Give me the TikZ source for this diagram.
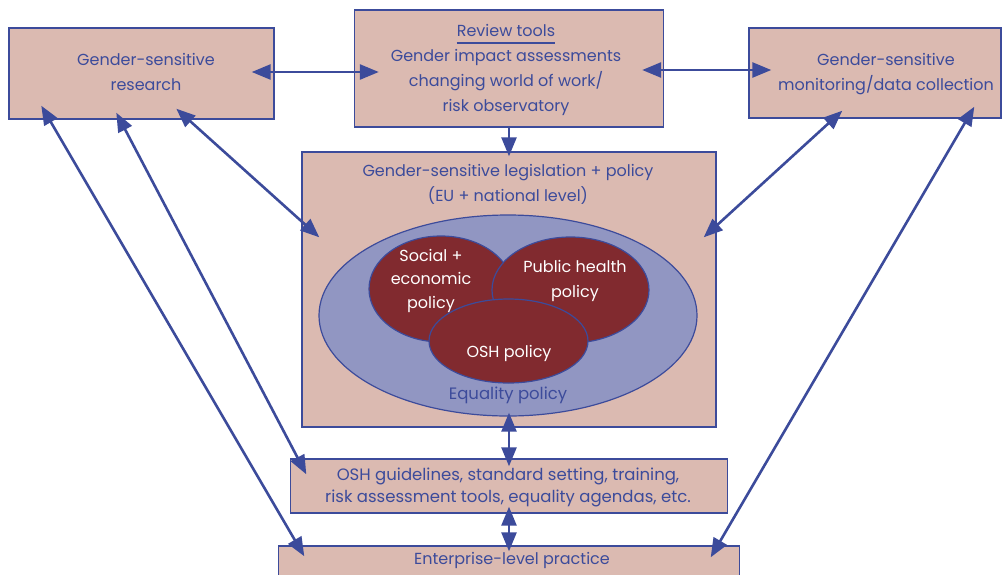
\documentclass[tikz,border=0pt]{standalone}
\usepackage{fontspec}
\setmainfont{Poppins}
\usetikzlibrary{calc,arrows.meta,shapes.geometric}
\definecolor{boxfill}{HTML}{DBBAB1}
\definecolor{navy}{HTML}{3C4B9B}
\definecolor{eqfill}{HTML}{9196C2}
\definecolor{policyred}{HTML}{812A2F}

\begin{document}
\begin{tikzpicture}[x=1pt,y=-1pt,
  panel/.style={rectangle, draw=navy, line width=1.4pt, fill=boxfill, inner sep=0pt},
  lbl/.style={text=navy, align=center, inner sep=0pt, font=\fontsize{16}{25}\selectfont},
  wlbl/.style={text=white, align=center, inner sep=0pt, font=\fontsize{16}{24}\selectfont},
  circ/.style={ellipse, draw=navy, line width=1.2pt, fill=policyred, inner sep=0pt},
  dbl/.style={draw=navy, line width=2.6pt, {Triangle[length=19pt,width=15pt]}-{Triangle[length=19pt,width=15pt]}},
  sgl/.style={draw=navy, line width=2.6pt, -{Triangle[length=19pt,width=15pt]}}
]
\clip (0,0) rectangle (1006,574);
\fill[white] (0,0) rectangle (1006,574);

% boxes
\node[panel, minimum width=265, minimum height=91] (research) at (141.5,73.5) {};
\node[panel, minimum width=309, minimum height=117] (review) at (509,68.5) {};
\node[panel, minimum width=252, minimum height=90] (monitor) at (875,73) {};
\node[panel, minimum width=414, minimum height=275] (central) at (509,289.5) {};
\node[panel, minimum width=437, minimum height=54] (osh) at (509,486) {};
\node[panel, minimum width=461, minimum height=54] (ent) at (509,573) {};

% box labels
\node[lbl] (researchlbl) at (146,71.5) {Gender-sensitive\\research};
\node[lbl] (revtitle) at (506,30) {Review tools};
\draw[navy, line width=2pt] ($(revtitle.base west)+(0,6.5)$) -- ($(revtitle.base east)+(0,6.5)$);
\node[lbl] (reviewlbl) at (506,82) {Gender impact assessments\\changing world of work/\\risk observatory};
\node[lbl] (monitorlbl) at (886,74) {Gender-sensitive\\monitoring/data collection};
\node[lbl] (centrallbl) at (508,184.5) {Gender-sensitive legislation + policy\\(EU + national level)};
\node[lbl, font=\fontsize{16.5}{22}\selectfont] (oshlbl) at (508,487) {OSH guidelines, standard setting, training,\\risk assessment tools, equality agendas, etc.};
\node[lbl] (entlbl) at (512,560) {Enterprise-level practice};

% policy ellipses
\node[ellipse, draw=navy, line width=1.2pt, fill=eqfill, minimum width=378, minimum height=201, inner sep=0pt] (equality) at (508,315.5) {};
\node[circ, minimum width=144, minimum height=106] (social) at (441,289) {};
\node[circ, minimum width=157, minimum height=106] (health) at (570.5,290) {};
\node[circ, minimum width=159, minimum height=84] (oshpol) at (508.5,341) {};

\node[wlbl, font=\fontsize{16}{23.5}\selectfont] (sociallbl) at (431,280.5) {Social +\\economic\\policy};
\node[wlbl, font=\fontsize{16}{25}\selectfont] (healthlbl) at (575,280.5) {Public health\\policy};
\node[wlbl] (oshpollbl) at (509,353) {OSH policy};
\node[lbl, font=\fontsize{16.5}{25}\selectfont] (equalitylbl) at (508,395) {Equality policy};

% connectors
\draw[dbl] ($(research.east)+(-23,-1.5)$) -- ($(review.west)+(25,3.5)$);
\draw[dbl] ($(review.east)+(-22,1.5)$) -- ($(monitor.west)+(23,-3)$);
\draw[sgl] (review.south) -- ($(central.north)+(0,5)$);
\draw[dbl] ($(central.south)+(0,-15)$) -- ($(osh.north)+(0,8)$);
\draw[dbl] ($(osh.south)+(0,-7)$) -- ($(ent.north)+(0,6)$);
\draw[dbl] ($(research.south west)+(33,-14)$) -- ($(ent.north west)+(26.5,11)$);
\draw[dbl] ($(research.south west)+(108,-7)$) -- ($(osh.north west)+(16.5,16)$);
\draw[dbl] ($(research.south west)+(168,-11)$) -- ($(central.north west)+(18,86)$);
\draw[dbl] ($(monitor.south west)+(94,-8)$) -- ($(central.north east)+(-13,86)$);
\draw[dbl] ($(monitor.south west)+(226,-12)$) -- ($(ent.north east)+(-29.5,12)$);
\end{tikzpicture}
\end{document}
